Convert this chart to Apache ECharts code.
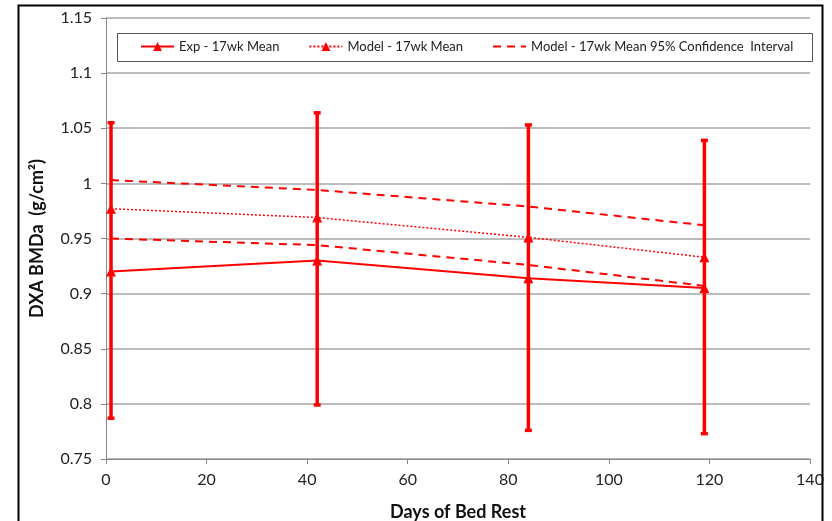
<!DOCTYPE html>
<html>
<head>
<meta charset="utf-8">
<script src="https://cdn.jsdelivr.net/npm/echarts@6/dist/echarts.min.js"></script>
<style>
    html, body { margin: 0; padding: 0; background: #fff; }
    #chart { width: 832px; height: 521px; }
</style>
</head>
<body>
<div id="chart"></div>
<script>
// Days of bed rest at each measurement
var days = [1, 42, 84, 119];

// Experimental mean with error bar range
var expMean = [0.920, 0.930, 0.914, 0.905];
var expLow = [0.787, 0.799, 0.776, 0.773];
var expHigh = [1.055, 1.064, 1.053, 1.039];

// Model mean and 95% confidence interval
var modelMean = [0.977, 0.969, 0.951, 0.933];
var ciUpper = [1.003, 0.994, 0.979, 0.962];
var ciLower = [0.950, 0.944, 0.926, 0.907];

var seriesNames = ['Exp - 17wk Mean', 'Model - 17wk Mean', 'Model - 17wk Mean 95% Confidence  Interval'];

var pairs = function (ys) {
    return days.map(function (d, i) { return [d, ys[i]]; });
};

var chart = echarts.init(document.getElementById('chart'));
var red = '#ff0000';
var font = 'Lato, "Open Sans", sans-serif';

chart.setOption({
    animation: false,
    textStyle: { fontFamily: font },

    grid: { left: 106, right: 22, top: 18, bottom: 62, outerBoundsMode: 'none' },

    // Outer frame and legend box
    graphic: [
        {
            type: 'rect',
            shape: { x: 18.5, y: 5.5, width: 804, height: 530 },
            style: { fill: null, stroke: '#000', lineWidth: 2 },
            z: 100
        },
        {
            type: 'rect',
            shape: { x: 117.5, y: 33.5, width: 695, height: 28 },
            style: { fill: '#fff', stroke: '#555', lineWidth: 1 },
            z: 5
        }
    ],

    legend: {
        data: [
            { name: seriesNames[0] },
            { name: seriesNames[1] },
            { name: seriesNames[2], itemStyle: { opacity: 0 } }
        ],
        top: 40,
        left: 140,
        padding: 0,
        itemWidth: 33,
        itemHeight: 11,
        itemGap: 29,
        z: 10,
        textStyle: { fontSize: 13, color: '#222', fontFamily: font }
    },

    xAxis: {
        type: 'value',
        min: 0,
        max: 140,
        interval: 20,
        name: 'Days of Bed Rest',
        nameLocation: 'middle',
        nameGap: 44,
        nameTextStyle: { fontSize: 18, fontWeight: 'bold', color: '#111', fontFamily: font },
        axisLine: { lineStyle: { color: '#888' } },
        axisTick: { inside: false, length: 5, lineStyle: { color: '#888' } },
        axisLabel: { margin: 13, fontSize: 16, color: '#222' },
        splitLine: { show: false }
    },

    yAxis: {
        type: 'value',
        min: 0.75,
        max: 1.15,
        interval: 0.05,
        name: 'DXA BMDa  (g/cm\u00b2)',
        nameLocation: 'middle',
        nameGap: 60,
        nameTextStyle: { fontSize: 18, fontWeight: 'bold', color: '#111', fontFamily: font },
        axisLine: { show: true, lineStyle: { color: '#888' } },
        axisTick: { show: true, length: 5, lineStyle: { color: '#888' } },
        axisLabel: {
            margin: 14,
            fontSize: 16,
            color: '#222',
            formatter: function (v) { return String(Math.round(v * 100) / 100); }
        },
        splitLine: { lineStyle: { color: '#a6a6a6', width: 1.5 } }
    },

    series: [
        // Error bars on experimental mean
        {
            name: 'errorbars',
            type: 'custom',
            z: 3,
            data: days.map(function (d, i) { return [d, expLow[i], expHigh[i]]; }),
            renderItem: function (params, api) {
                var lo = api.coord([api.value(0), api.value(1)]);
                var hi = api.coord([api.value(0), api.value(2)]);
                var w = 3.5;
                var style = { stroke: red, lineWidth: 3.5 };
                return {
                    type: 'group',
                    children: [
                        { type: 'line', shape: { x1: lo[0], y1: lo[1], x2: hi[0], y2: hi[1] }, style: style },
                        { type: 'line', shape: { x1: lo[0] - w, y1: lo[1], x2: lo[0] + w, y2: lo[1] }, style: style },
                        { type: 'line', shape: { x1: hi[0] - w, y1: hi[1], x2: hi[0] + w, y2: hi[1] }, style: style }
                    ]
                };
            }
        },
        {
            name: seriesNames[0],
            type: 'line',
            z: 4,
            data: pairs(expMean),
            symbol: 'triangle',
            symbolSize: 10,
            itemStyle: { color: red },
            lineStyle: { color: red, width: 2 }
        },
        {
            name: seriesNames[1],
            type: 'line',
            z: 4,
            data: pairs(modelMean),
            symbol: 'triangle',
            symbolSize: 10,
            itemStyle: { color: red },
            lineStyle: { color: red, width: 1.5, type: [2, 2] }
        },
        {
            name: seriesNames[2],
            type: 'line',
            z: 4,
            data: pairs(ciUpper),
            symbol: 'none',
            itemStyle: { color: red },
            lineStyle: { color: red, width: 2, type: [8, 6] }
        },
        {
            name: seriesNames[2],
            type: 'line',
            z: 4,
            data: pairs(ciLower),
            symbol: 'none',
            itemStyle: { color: red },
            lineStyle: { color: red, width: 2, type: [8, 6] }
        }
    ]
});
</script>
</body>
</html>
